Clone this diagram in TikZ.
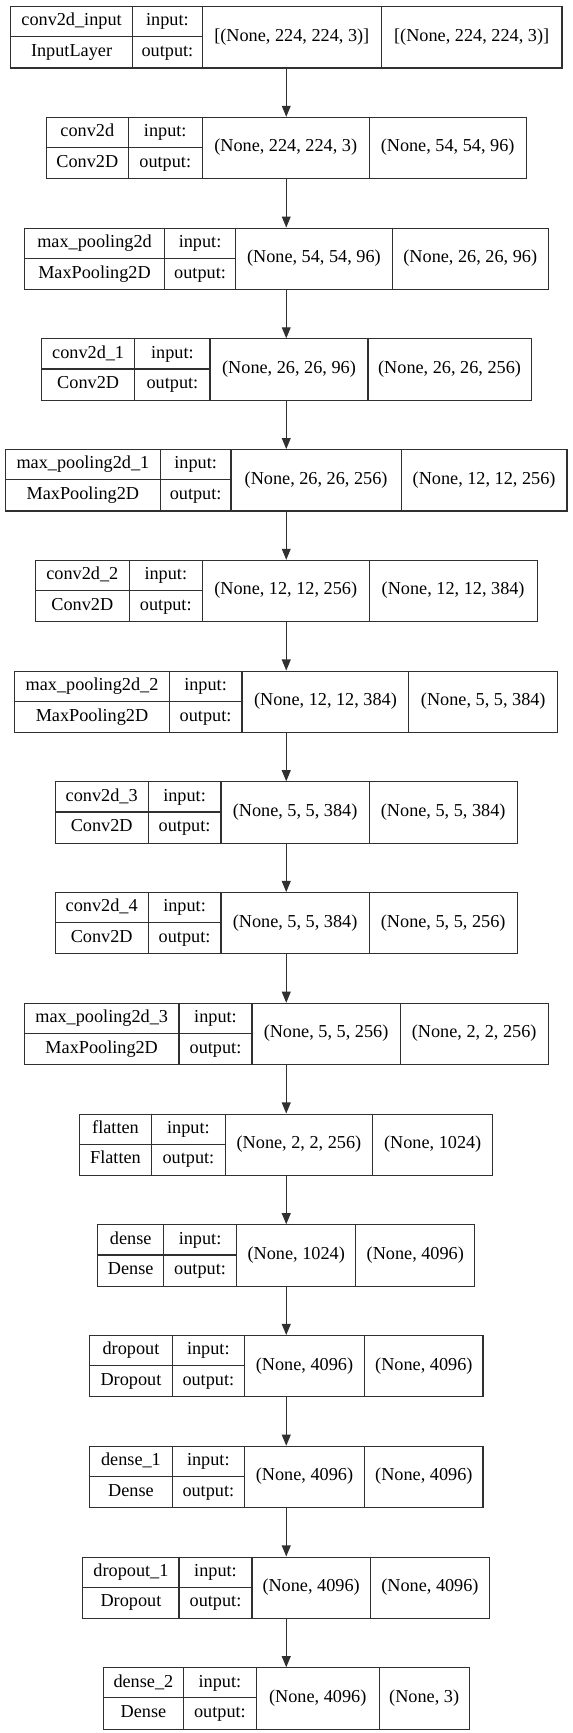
\documentclass[tikz,border=0pt]{standalone}
\usepackage{fontspec}
\setmainfont{Liberation Serif}
\usetikzlibrary{arrows.meta}

\definecolor{edge}{HTML}{303030}
\tikzset{
  record/.style={draw=edge, line width=1pt, inner sep=0pt, anchor=north},
  rule/.style={draw=edge, line width=1pt},
  label/.style={inner sep=0pt, text height=11.5pt, text depth=3.5pt},
  arrow/.style={draw=edge, line width=1pt, -{Triangle[length=10pt,width=8pt]}}
}

% one keras layer record: index, half width, three divider x's, name, class, in shape, out shape
\newcommand{\layerbox}[9]{%
  \pgfmathsetmacro{\lt}{-(5.5+100.2*(#1-1))}%
  \pgfmathsetmacro{\lm}{\lt-27.75}%
  \pgfmathsetmacro{\lb}{\lt-55.5}%
  \pgfmathsetmacro{\lx}{259-#2}%
  \node[record, minimum width={2*#2}, minimum height=55.5] (l#1) at (259,\lt) {};
  \draw[rule] (#3,\lt) -- (#3,\lb) (#4,\lt) -- (#4,\lb) (#5,\lt) -- (#5,\lb) (\lx,\lm) -- (#4,\lm);
  \node[label] (l#1-name) at ({(\lx+#3)/2},{\lt-13.9}) {#6};
  \node[label] (l#1-class) at ({(\lx+#3)/2},{\lm-13.9}) {#7};
  \node[label] (l#1-inlab) at ({(#3+#4)/2},{\lt-13.9}) {input:};
  \node[label] (l#1-outlab) at ({(#3+#4)/2},{\lm-13.9}) {output:};
  \node[label] (l#1-in) at ({(#4+#5)/2},\lm) {#8};
  \node[label] (l#1-out) at ({(#5+259+#2)/2},\lm) {#9};
}

\begin{document}
\begin{tikzpicture}[x=1pt,y=1pt,font=\fontsize{16.5}{19}\selectfont]
    \useasboundingbox (0,0) rectangle (518,-1568);
    \fill[white] (0,0) rectangle (518,-1568);

    \layerbox{1}{249.5}{120}{183}{345}{conv2d\_input}{InputLayer}{[(None, 224, 224, 3)]}{[(None, 224, 224, 3)]}
    \layerbox{2}{217}{116}{183}{334}{conv2d}{Conv2D}{(None, 224, 224, 3)}{(None, 54, 54, 96)}
    \layerbox{3}{237}{149}{213}{355}{max\_pooling2d}{MaxPooling2D}{(None, 54, 54, 96)}{(None, 26, 26, 96)}
    \layerbox{4}{221.5}{122}{190}{333}{conv2d\_1}{Conv2D}{(None, 26, 26, 96)}{(None, 26, 26, 256)}
    \layerbox{5}{254}{145}{209}{363}{max\_pooling2d\_1}{MaxPooling2D}{(None, 26, 26, 256)}{(None, 12, 12, 256)}
    \layerbox{6}{227}{117}{183}{334}{conv2d\_2}{Conv2D}{(None, 12, 12, 256)}{(None, 12, 12, 384)}
    \layerbox{7}{245.5}{153}{219}{370}{max\_pooling2d\_2}{MaxPooling2D}{(None, 12, 12, 384)}{(None, 5, 5, 384)}
    \layerbox{8}{209}{134}{200}{334}{conv2d\_3}{Conv2D}{(None, 5, 5, 384)}{(None, 5, 5, 384)}
    \layerbox{9}{209}{134}{200}{334}{conv2d\_4}{Conv2D}{(None, 5, 5, 384)}{(None, 5, 5, 256)}
    \layerbox{10}{237}{162}{228}{362}{max\_pooling2d\_3}{MaxPooling2D}{(None, 5, 5, 256)}{(None, 2, 2, 256)}
    \layerbox{11}{187}{137}{204}{337}{flatten}{Flatten}{(None, 2, 2, 256)}{(None, 1024)}
    \layerbox{12}{170.5}{148}{214}{322}{dense}{Dense}{(None, 1024)}{(None, 4096)}
    \layerbox{13}{178}{156}{221}{330}{dropout}{Dropout}{(None, 4096)}{(None, 4096)}
    \layerbox{14}{178}{156}{221}{330}{dense\_1}{Dense}{(None, 4096)}{(None, 4096)}
    \layerbox{15}{184}{162}{228}{335}{dropout\_1}{Dropout}{(None, 4096)}{(None, 4096)}
    \layerbox{16}{165.5}{166}{232}{343}{dense\_2}{Dense}{(None, 4096)}{(None, 3)}

    \foreach \i [remember=\i as \prev (initially 1)] in {2,...,16}
        \draw[arrow] (l\prev) -- (l\i);
\end{tikzpicture}
\end{document}
